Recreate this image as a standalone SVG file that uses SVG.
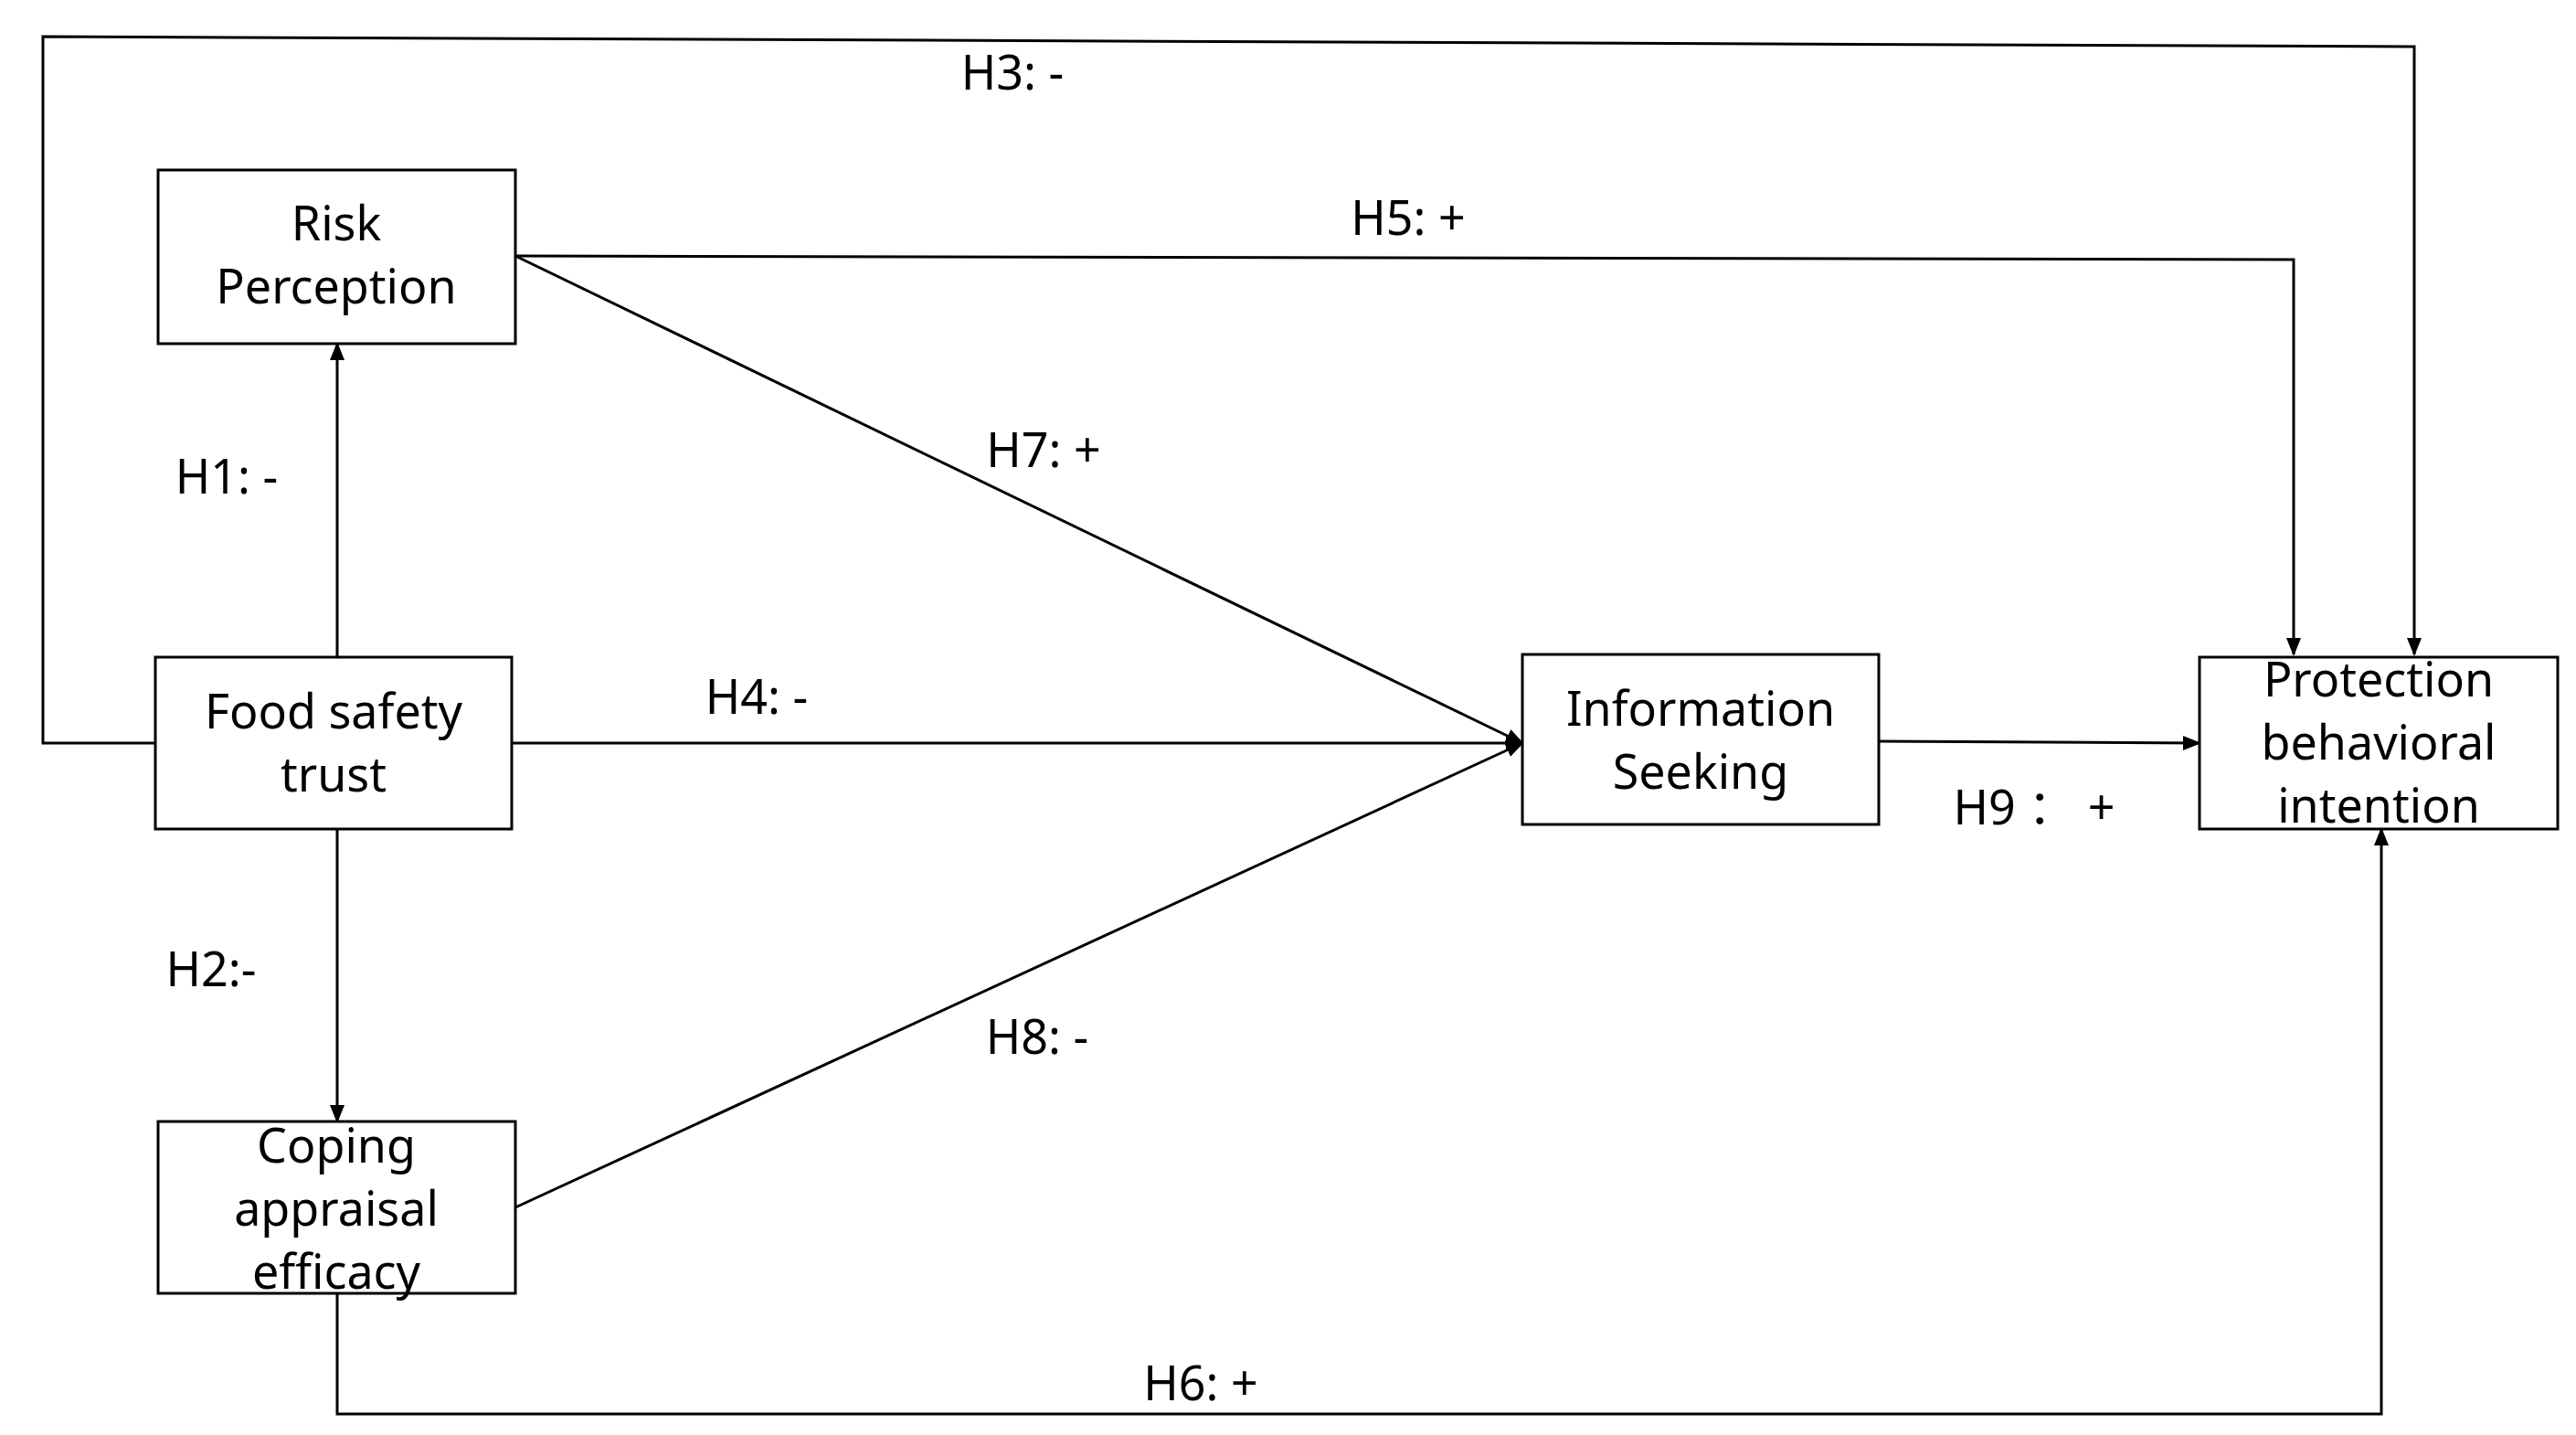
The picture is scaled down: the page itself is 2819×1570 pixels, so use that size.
<svg xmlns="http://www.w3.org/2000/svg" width="2819" height="1570" viewBox="0 0 2819 1570">
<style>
.b{fill:#fff;stroke:#000;stroke-width:3}
.t{font-family:"Noto Sans","Noto Sans CJK SC",sans-serif;font-size:52px;fill:#000;text-anchor:middle}
.l{fill:none;stroke:#000;stroke-width:3}
</style>
<defs><marker id="a" markerWidth="10" markerHeight="10" refX="9" refY="5" orient="auto" markerUnits="userSpaceOnUse" viewBox="0 0 10 10"><path d="M0,0 L10,5 L0,10 z" fill="#000"/></marker>
<marker id="a2" markerWidth="20" markerHeight="20" refX="18" refY="10" orient="auto" markerUnits="userSpaceOnUse" viewBox="0 0 20 20"><path d="M0,2 L20,10 L0,18 z" fill="#000"/></marker></defs>
<rect width="2819" height="1570" fill="#fff"/>
<g id="connectors">
<path class="l" d="M170,813 H47 V40 L2642,51 V716" marker-end="url(#a2)"/>
<path class="l" d="M564,280 L2510,284 V716" marker-end="url(#a2)"/>
<path class="l" d="M564,280 L1666,813" marker-end="url(#a2)"/>
<path class="l" d="M560,813 L1666,813" marker-end="url(#a2)"/>
<path class="l" d="M564,1321 L1666,813" marker-end="url(#a2)"/>
<path class="l" d="M2056,811 L2407,813" marker-end="url(#a2)"/>
<path class="l" d="M369,1415 V1547 H2606 V907" marker-end="url(#a2)"/>
<path class="l" d="M369,719 V376" marker-end="url(#a2)"/>
<path class="l" d="M369,907 V1227" marker-end="url(#a2)"/>
<g class="t">
<text x="1108" y="98">H3: -</text>
<text x="1541" y="257">H5: +</text>
<text x="1142" y="511">H7: +</text>
<text x="248" y="540">H1: -</text>
<text x="828" y="781">H4: -</text>
<text x="2226" y="902">H9 ： +</text>
<text x="231" y="1079">H2:-</text>
<text x="1135" y="1153">H8: -</text>
<text x="1314" y="1532">H6: +</text>
</g>
</g>
<g id="risk"><rect class="b" x="173" y="186" width="391" height="190"/><text class="t" x="368" y="263">Risk</text><text class="t" x="368" y="332">Perception</text></g>
<g id="trust"><rect class="b" x="170" y="719" width="390" height="188"/><text class="t" x="365" y="797">Food safety</text><text class="t" x="365" y="866">trust</text></g>
<g id="coping"><rect class="b" x="173" y="1227" width="391" height="188"/><text class="t" x="368" y="1272">Coping</text><text class="t" x="368" y="1341">appraisal</text><text class="t" x="368" y="1410">efficacy</text></g>
<g id="info"><rect class="b" x="1666" y="716" width="390" height="186"/><text class="t" x="1861" y="794">Information</text><text class="t" x="1861" y="863">Seeking</text></g>
<g id="protect"><rect class="b" x="2407" y="719" width="392" height="188"/><text class="t" x="2603" y="762">Protection</text><text class="t" x="2603" y="831">behavioral</text><text class="t" x="2603" y="900">intention</text></g>
</svg>
